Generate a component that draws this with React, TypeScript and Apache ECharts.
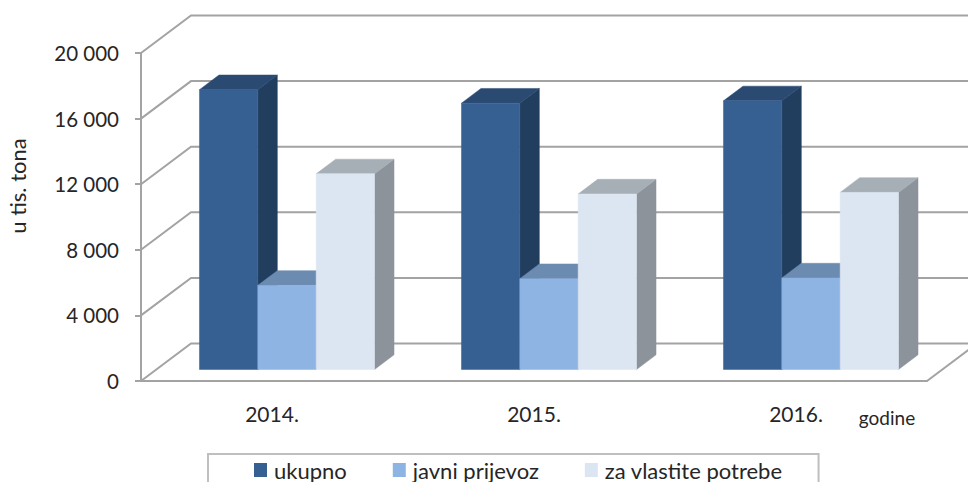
import React, { useEffect, useRef } from "react";
import * as echarts from "echarts";

const categories = ["2014.", "2015.", "2016."];
const ukupno = [17060, 16240, 16380];
const javniPrijevoz = [5130, 5540, 5580];
const vlastitePotrebe = [11930, 10700, 10800];
const wallTicks = [0, 4000, 8000, 12000, 16000, 20000];
const seriesNames = ["ukupno", "javni prijevoz", "za vlastite potrebe"];

const FONT = "Lato";
const TEXT = "#262626";
const LINE = "#a3a3a3";
const WALL_DX = 50;
const WALL_DY = -37.5;
const PLANE_DX = 15;
const PLANE_DY = -11.5;
const DEPTH_DX = 19.5;
const DEPTH_DY = -14.7;

const palettes = [
  { front: "#366092", top: "#2b4a72", side: "#213e5f" },
  { front: "#8db4e2", top: "#6c8bb0", side: "#5f7ea3" },
  { front: "#dce6f2", top: "#a6aeb6", side: "#8c939b" },
];

const formatThousands = (v: number) =>
  v === 0 ? "0" : `${Math.floor(v / 1000)} ${String(v % 1000).padStart(3, "0")}`;

function barSeries(name: string, values: number[], index: number) {
  const pal = palettes[index];
  return {
    type: "custom",
    name,
    clip: false,
    z: 3 + index,
    itemStyle: { color: pal.front },
    data: values.map((v, i) => [i, v]),
    encode: { x: 0, y: 1 },
    renderItem: (params: any, api: any) => {
      const cat = api.value(0);
      const v = api.value(1);
      const top = api.coord([cat, v]);
      const bottom = api.coord([cat, 0]);
      const w = params.coordSys.width / categories.length / 4.49;
      const x0 = top[0] + PLANE_DX - 1.5 * w + index * w;
      const x1 = x0 + w;
      const y0 = top[1] + PLANE_DY;
      const y1 = bottom[1] + PLANE_DY;
      const poly = (points: number[][], color: string) => ({
        type: "polygon",
        shape: { points },
        style: { fill: color, stroke: color, lineWidth: 0.5 },
      });
      return {
        type: "group",
        children: [
          poly(
            [[x1, y0], [x1 + DEPTH_DX, y0 + DEPTH_DY], [x1 + DEPTH_DX, y1 + DEPTH_DY], [x1, y1]],
            pal.side
          ),
          poly(
            [[x0, y0], [x0 + DEPTH_DX, y0 + DEPTH_DY], [x1 + DEPTH_DX, y0 + DEPTH_DY], [x1, y0]],
            pal.top
          ),
          poly([[x0, y0], [x1, y0], [x1, y1], [x0, y1]], pal.front),
        ],
      };
    },
  };
}

const wallSeries = {
  type: "custom",
  name: "walls",
  silent: true,
  clip: false,
  z: 1,
  data: wallTicks.map((t) => [0, t]),
  encode: { x: 0, y: 1 },
  renderItem: (params: any, api: any) => {
    const y = api.coord([0, api.value(1)])[1];
    const left = params.coordSys.x;
    const right = left + params.coordSys.width;
    const style = { stroke: LINE, lineWidth: 2, fill: "none" };
    const children: any[] = [
      {
        type: "polyline",
        shape: { points: [[left, y], [left + WALL_DX, y + WALL_DY], [right + WALL_DX, y + WALL_DY]] },
        style,
      },
    ];
    if (api.value(1) === 0) {
      children.push({
        type: "line",
        shape: { x1: right, y1: y, x2: right + WALL_DX, y2: y + WALL_DY },
        style,
      });
    }
    return { type: "group", children };
  },
};

export default function App() {
  const ref = useRef<HTMLDivElement>(null);
  useEffect(() => {
    document.body.style.margin = "0";
    const chart = echarts.init(ref.current!, undefined, { renderer: "svg" });
    chart.setOption({
      animation: false,
      backgroundColor: "#ffffff",
      grid: { left: 141, right: 41, top: 53, bottom: 101 },
      xAxis: {
        type: "category",
        data: categories,
        axisLine: { show: true, lineStyle: { color: LINE, width: 2 } },
        axisTick: { show: false },
        axisLabel: { fontFamily: FONT, fontSize: 21, color: TEXT, margin: 22 },
      },
      yAxis: {
        type: "value",
        min: 0,
        max: 20000,
        interval: 4000,
        splitLine: { show: false },
        axisLine: { show: true, lineStyle: { color: LINE, width: 2 } },
        axisTick: { show: true, length: 6, lineStyle: { color: LINE, width: 2 } },
        axisLabel: {
          fontFamily: FONT,
          fontSize: 20.5,
          color: TEXT,
          margin: 22,
          formatter: (v: number) => formatThousands(v),
        },
      },
      legend: {
        data: seriesNames,
        left: 208,
        top: 454,
        orient: "horizontal",
        icon: "rect",
        itemWidth: 13,
        itemHeight: 14,
        itemGap: 46,
        padding: [4, 36, 14, 46],
        borderColor: "#bfbfbf",
        borderWidth: 2,
        textStyle: { fontFamily: FONT, fontSize: 22, lineHeight: 24, color: TEXT, padding: [0, 0, 0, 2] },
      },
      graphic: [
        {
          type: "text",
          x: 17,
          y: 186,
          rotation: Math.PI / 2,
          style: {
            text: "u tis. tona",
            font: `22px ${FONT}`,
            fill: TEXT,
            textAlign: "center",
            textVerticalAlign: "middle",
          },
        },
        {
          type: "text",
          x: 887,
          y: 417,
          style: {
            text: "godine",
            font: `19px ${FONT}`,
            fill: TEXT,
            textAlign: "center",
            textVerticalAlign: "middle",
          },
        },
      ],
      series: [
        wallSeries,
        barSeries(seriesNames[0], ukupno, 0),
        barSeries(seriesNames[1], javniPrijevoz, 1),
        barSeries(seriesNames[2], vlastitePotrebe, 2),
      ],
    });
    return () => chart.dispose();
  }, []);
  return <div ref={ref} style={{ width: 968, height: 482 }} />;
}
